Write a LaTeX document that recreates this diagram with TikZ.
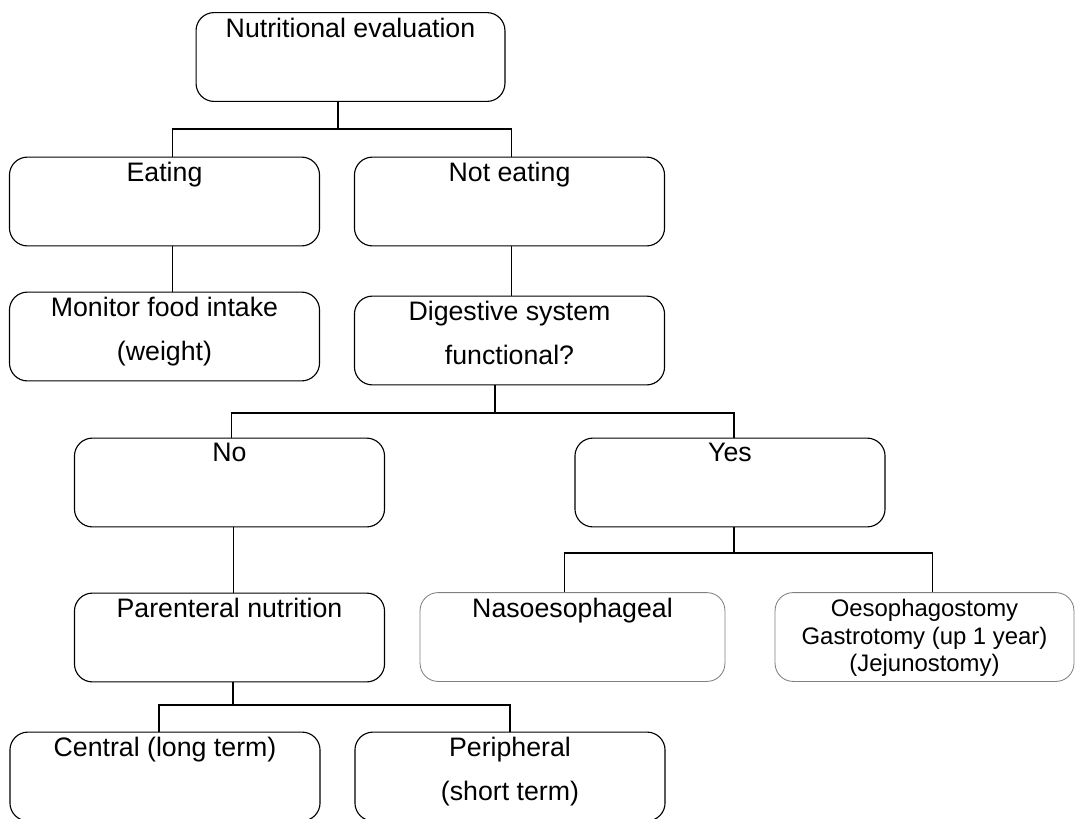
\documentclass[tikz,border=0pt]{standalone}
\usepackage{fontspec}
\setmainfont{Liberation Sans}
\usepackage{tikz}
\usetikzlibrary{positioning}

\begin{document}
\begin{tikzpicture}[
    x=0.025cm, y=-0.025cm,
    box/.style={rectangle, rounded corners=0.45cm, draw, line width=0.8pt, minimum width=7.75cm, minimum height=2.22cm},
    softbox/.style={box, draw=black!50, line width=0.6pt},
    txt/.style={label={[anchor=north, inner sep=4pt, align=center, font=\fontsize{19}{31}\selectfont]north:#1}},
    smalltxt/.style={label={[anchor=north, inner sep=5pt, align=center, font=\fontsize{17}{19.5}\selectfont]north:#1}},
    link/.style={line width=0.8pt}
]
\useasboundingbox (0,0) rectangle (1075,818);
\clip (0,0) rectangle (1075,818);

% Top
\node[box, minimum width=7.72cm, txt={Nutritional evaluation}] (nutr) at (350.5,57) {};

% Eating / Not eating
\node[box, txt={Eating}] (eat) at (164.5,201.5) {};
\node[box, txt={Not eating}] (noteat) at (509.5,201.5) {};
\node[box, txt={Monitor food intake\\(weight)}] (monitor) at (164.5,336.5) {};
\node[box, txt={Digestive system\\functional?}] (digest) at (509.5,340.5) {};

% No / Yes
\node[box, txt={No}] (no) at (229.5,482.5) {};
\node[box, txt={Yes}] (yes) at (730,482.5) {};
\node[box, txt={Parenteral nutrition}] (parent) at (229.5,637.5) {};
\node[softbox, minimum width=7.62cm, txt={Nasoesophageal}] (naso) at (572.5,637) {};
\node[softbox, minimum width=7.47cm, smalltxt={Oesophagostomy\\Gastrotomy (up 1 year)\\(Jejunostomy)}] (oeso) at (924.5,637) {};

% Parenteral routes
\node[box, txt={Central (long term)}] (central) at (165,776.5) {};
\node[box, txt={Peripheral\\(short term)}] (periph) at (510,776.5) {};

% connectors
\coordinate (j1) at (338,129);
\coordinate (j2) at (495,413);
\coordinate (j3) at (734,553);
\coordinate (j4) at (233,705);

\draw[link] (nutr.south -| j1) -- (j1);
\draw[link] ([xshift=0.21cm]eat.north) |- (j1) -| ([xshift=0.04cm]noteat.north);
\draw[link] ([xshift=0.19cm]eat.south) -- ([xshift=0.19cm]monitor.north);
\draw[link] ([xshift=0.04cm]noteat.south) -- ([xshift=0.04cm]digest.north);

\draw[link] (digest.south -| j2) -- (j2);
\draw[link] ([xshift=0.06cm]no.north) |- (j2) -| ([xshift=0.1cm]yes.north);
\draw[link] ([xshift=0.09cm]no.south) -- ([xshift=0.09cm]parent.north);

\draw[link] (yes.south -| j3) -- (j3);
\draw[link] ([xshift=-0.21cm]naso.north) |- (j3) -| ([xshift=0.19cm]oeso.north);

\draw[link] (parent.south -| j4) -- (j4);
\draw[link] ([xshift=-0.15cm]central.north) |- (j4) -| (periph.north);

\end{tikzpicture}
\end{document}
